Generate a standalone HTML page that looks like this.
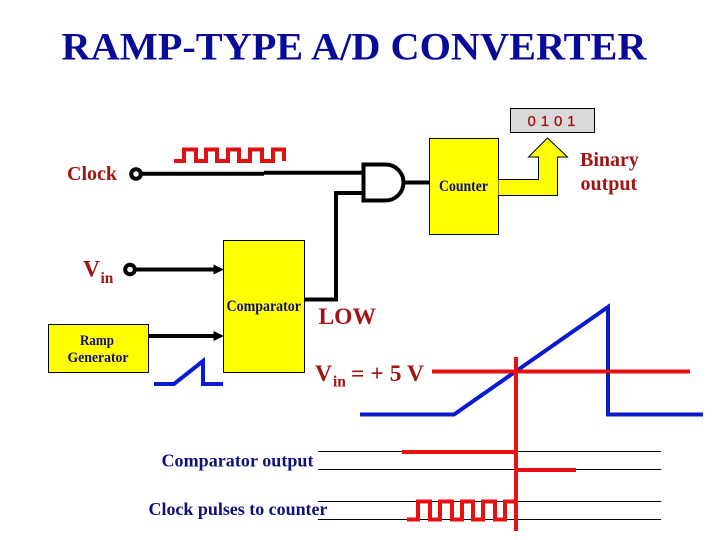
<!DOCTYPE html>
<html><head><meta charset="utf-8"><style>
html,body{margin:0;padding:0;background:#fff;width:720px;height:540px;overflow:hidden}
svg{display:block}
text{font-family:"Liberation Serif",serif;font-weight:bold}
.r{fill:#a01414}
.n{fill:#10107a}
</style></head><body>
<svg width="720" height="540" viewBox="0 0 720 540" xmlns="http://www.w3.org/2000/svg">
<text x="61.500" y="59.500" font-size="39" fill="#0a0a9a" textLength="585" lengthAdjust="spacingAndGlyphs">RAMP-TYPE A/D CONVERTER</text>

<rect x="510.500" y="108.500" width="84" height="24" fill="#d9d9d9" stroke="#000" stroke-width="1"/>
<text x="527.500" y="126" font-size="15" class="r" style="font-family:'Liberation Sans',sans-serif;font-weight:normal;stroke:#a01414;stroke-width:.3" textLength="48">0 1 0 1</text>

<!-- lines -->
<g fill="none" stroke="#000" stroke-width="4">
<path d="M141 173.700H264M264 172.700H363"/>
<path d="M363 193H336V299.500H304"/>
<path d="M403 182.500H430"/>
<path d="M136 269.500H214"/>
<path d="M148 336H214"/>
<path d="M363.500 164.500H385.500A18 18 0 0 1 385.500 200.500H363.500Z"/>
<circle cx="136" cy="174" r="4.800"/>
<circle cx="130" cy="269.500" r="4.800"/>
</g>
<path d="M213.500 264.500V274.500L224 269.500Z M213.500 331V341L224 336Z" fill="#000"/>

<!-- boxes -->
<g fill="#ffff00" stroke="#000" stroke-width="1">
<rect x="223.500" y="240.500" width="81" height="132"/>
<rect x="48.500" y="324.500" width="100" height="48"/>
<rect x="429.500" y="138.500" width="69" height="96"/>
<path d="M498.500 179.500H538.500V157H528.500L547.500 138L567.500 157H557.500V195.500H498.500"/>
</g>

<!-- clock pulses -->
<path d="M174 161H184V149.500H196V161H206V149.500H217V161H228V149.500H239V161H250V149.500H262V161H273V149.500H284V161" fill="none" stroke="#dd1111" stroke-width="4"/>

<!-- timing lines -->
<g stroke="#000" stroke-width="1">
<path d="M318 451.500H661M318 469.500H661M318 501.500H661M318 519.500H661"/>
</g>

<!-- ramps -->
<path d="M154 384H174L203 361V384H223" fill="none" stroke="#0a1ad0" stroke-width="4"/>
<path d="M360 414.500H454L608 307V414.500H703" fill="none" stroke="#0a1ad0" stroke-width="4"/>

<!-- red -->
<g fill="none" stroke="#e81010" stroke-width="4">
<path d="M432 371.500H690"/>
<path d="M516 357V531"/>
<path d="M402 452H516"/>
<path d="M516 470H576"/>
<path d="M407 519.500H418V501.500H430V519.500H440V501.500H452V519.500H462V501.500H473V519.500H483V501.500H495V519.500H505V501.500H516"/>
</g>

<!-- labels -->
<text x="67" y="180" font-size="20" class="r">Clock</text>
<text x="83" y="276.500" font-size="23.500" class="r">V</text>
<text x="100.500" y="283" font-size="15.500" class="r">in</text>
<text x="580" y="166" font-size="20" class="r">Binary</text>
<text x="580.500" y="190" font-size="20" class="r">output</text>
<text x="318.500" y="324" font-size="23.500" class="r">LOW</text>
<text x="315" y="381" font-size="23.500" class="r">V</text>
<text x="333" y="386.500" font-size="15.500" class="r">in</text>
<text x="351" y="381" font-size="23.500" class="r" textLength="73">= + 5 V</text>

<text x="439" y="191" font-size="15.500" class="n" textLength="49" lengthAdjust="spacingAndGlyphs">Counter</text>
<text x="226.500" y="311" font-size="15.500" class="n" textLength="74.500" lengthAdjust="spacingAndGlyphs">Comparator</text>
<text x="80" y="345" font-size="15" class="n" textLength="34" lengthAdjust="spacingAndGlyphs">Ramp</text>
<text x="67.500" y="362" font-size="15" class="n" textLength="61" lengthAdjust="spacingAndGlyphs">Generator</text>
<text x="161.500" y="466.500" font-size="18" class="n" textLength="152">Comparator output</text>
<text x="148.500" y="515" font-size="18" class="n" textLength="179">Clock pulses to counter</text>
</svg>
</body></html>
